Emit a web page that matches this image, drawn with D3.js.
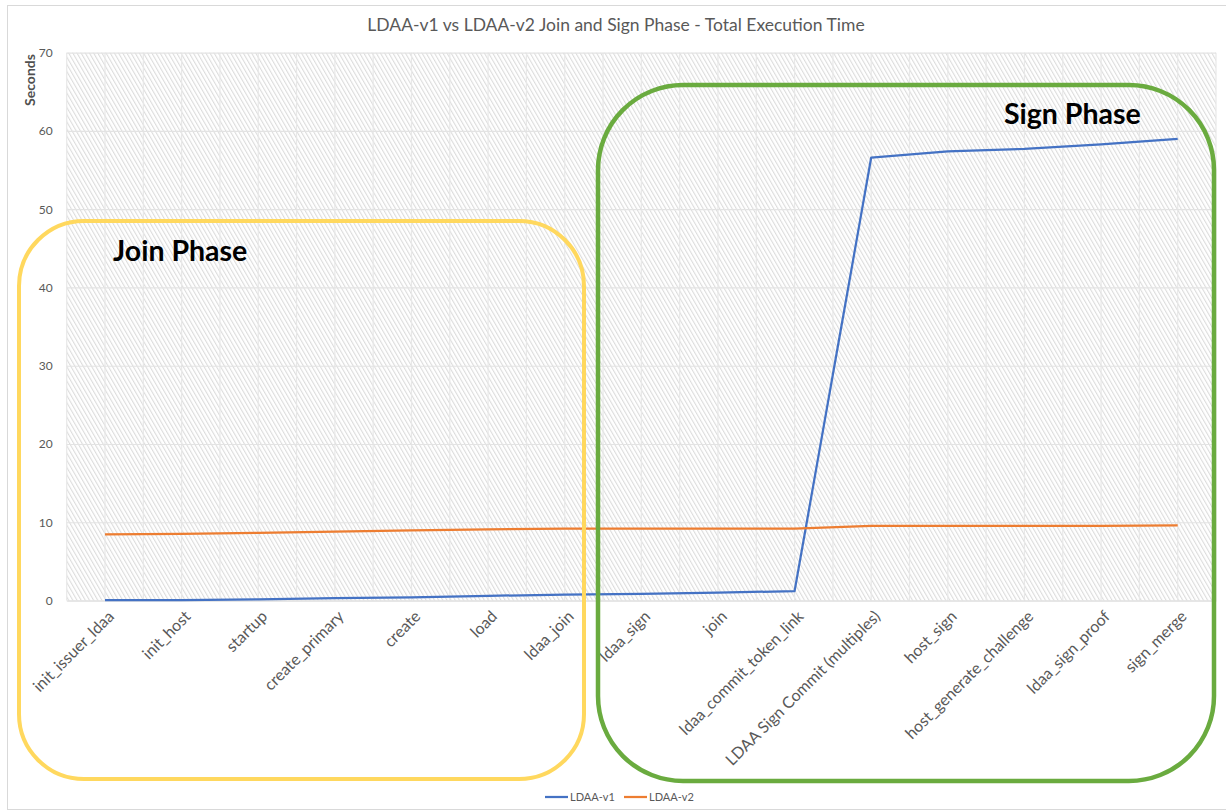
<!DOCTYPE html>
<html>
<head>
<meta charset="utf-8">
<script src="https://cdn.jsdelivr.net/npm/d3@7"></script>
<style>
  body { margin: 0; background: #fff; }
  svg { display: block; font-family: Lato, "Open Sans", sans-serif; }
</style>
</head>
<body>
<svg width="1226" height="812"></svg>
<script>
var categories = ["init_issuer_ldaa", "init_host", "startup", "create_primary", "create", "load", "ldaa_join",
  "ldaa_sign", "join", "ldaa_commit_token_link", "LDAA Sign Commit (multiples)", "host_sign",
  "host_generate_challenge", "ldaa_sign_proof", "sign_merge"];
var ldaaV1 = [0.05, 0.05, 0.15, 0.3, 0.4, 0.6, 0.75, 0.85, 1.0, 1.2, 56.6, 57.4, 57.7, 58.3, 59.0];
var ldaaV2 = [8.45, 8.5, 8.65, 8.8, 8.95, 9.1, 9.2, 9.2, 9.2, 9.2, 9.55, 9.55, 9.55, 9.55, 9.6];
var yTicks = [0, 10, 20, 30, 40, 50, 60, 70];
var seriesNames = ["LDAA-v1", "LDAA-v2"];
var seriesColors = ["#4472C4", "#ED7D31"];

var svg = d3.select('svg');

var plotLeft = 66.7, plotRight = 1216, plotTop = 52.7, plotBottom = 600.5;

var scaleX = d3.scaleBand().domain(categories).range([plotLeft, plotRight]).padding(0);
var scaleY = d3.scaleLinear().domain([0, 70]).range([plotBottom, plotTop]);
var cx = function(c){ return scaleX(c) + scaleX.bandwidth() / 2; };

// outer chart border
svg.append('rect')
  .attr('x', 7.5).attr('y', 5.5).attr('width', 1240).attr('height', 804)
  .attr('fill', '#fff').attr('stroke', '#d9d9d9');

// hatched plot background
var defs = svg.append('defs');
var pat = defs.append('pattern')
  .attr('id', 'hatch')
  .attr('patternUnits', 'userSpaceOnUse')
  .attr('width', 3.6).attr('height', 10)
  .attr('patternTransform', 'rotate(-30)');
pat.append('rect').attr('width', 3.6).attr('height', 10).attr('fill', '#fff');
pat.append('rect').attr('width', 1.1).attr('height', 10).attr('fill', '#dcdcdc');

svg.append('rect')
  .attr('x', plotLeft).attr('y', plotTop)
  .attr('width', plotRight - plotLeft).attr('height', plotBottom - plotTop)
  .attr('fill', 'url(#hatch)');

// vertical gridlines at band edges and centres
var vLines = [];
categories.forEach(function(c){ vLines.push(scaleX(c)); vLines.push(cx(c)); });
vLines.push(plotRight);
svg.append('g').selectAll('line')
  .data(vLines)
  .enter()
  .append('line')
  .attr('x1', function(d){ return d; }).attr('x2', function(d){ return d; })
  .attr('y1', plotTop).attr('y2', plotBottom)
  .attr('stroke', '#e8e8e8').attr('stroke-width', 1.2);

// horizontal gridlines + y axis
var yAxis = svg.append('g')
  .attr('transform', 'translate(' + plotLeft + ',0)')
  .call(d3.axisLeft(scaleY).tickValues(yTicks).tickSize(-(plotRight - plotLeft)).tickPadding(14));
yAxis.select('.domain').remove();
yAxis.selectAll('.tick line').attr('stroke', '#e3e3e3').attr('stroke-width', 1.2);
yAxis.selectAll('.tick text')
  .attr('fill', '#595959').style('font-size', '12px').style('font-family', 'Lato, sans-serif');

// x axis labels
var xAxis = svg.append('g')
  .attr('transform', 'translate(0,' + plotBottom + ')')
  .call(d3.axisBottom(scaleX).tickSize(0).tickPadding(0));
xAxis.select('.domain').attr('stroke', '#dcdcdc');
xAxis.selectAll('.tick text')
  .attr('fill', '#595959')
  .style('font-size', '16px')
  .style('font-family', 'Lato, sans-serif')
  .attr('text-anchor', 'end')
  .attr('dy', '0')
  .attr('transform', 'translate(10,17) rotate(-45)');

// lines
var line = d3.line()
  .x(function(d, i){ return cx(categories[i]); })
  .y(function(d){ return scaleY(d); });

[ldaaV1, ldaaV2].forEach(function(vals, k){
  svg.append('path')
    .datum(vals)
    .attr('d', line)
    .attr('fill', 'none')
    .attr('stroke', seriesColors[k])
    .attr('stroke-width', 2.25)
    .attr('stroke-linejoin', 'round');
});

// title
svg.append('text')
  .attr('x', 616).attr('y', 31)
  .attr('text-anchor', 'middle')
  .attr('fill', '#595959')
  .style('font-size', '17.5px')
  .text('LDAA-v1 vs LDAA-v2 Join and Sign Phase - Total Execution Time');

// y axis title
svg.append('text')
  .attr('transform', 'translate(35,80) rotate(-90)')
  .attr('text-anchor', 'middle')
  .attr('fill', '#505050')
  .style('font-size', '14px')
  .style('font-weight', 'bold')
  .text('Seconds');

// phase boxes
svg.append('rect')
  .attr('x', 19).attr('y', 221).attr('width', 565).attr('height', 558)
  .attr('rx', 65).attr('ry', 65)
  .attr('fill', 'none').attr('stroke', '#FFD85E').attr('stroke-width', 4);
svg.append('rect')
  .attr('x', 598).attr('y', 85).attr('width', 616).attr('height', 696)
  .attr('rx', 85).attr('ry', 85)
  .attr('fill', 'none').attr('stroke', '#6AAB3F').attr('stroke-width', 4.5);

svg.append('text')
  .attr('x', 113).attr('y', 261)
  .attr('fill', '#000').style('font-size', '28.5px').style('font-weight', 'bold')
  .text('Join Phase');
svg.append('text')
  .attr('x', 1004).attr('y', 124)
  .attr('fill', '#000').style('font-size', '28.5px').style('font-weight', 'bold')
  .text('Sign Phase');

// legend
var legend = svg.append('g').attr('transform', 'translate(545,797)');
var legendX = [0, 79];
seriesNames.forEach(function(name, k){
  var g = legend.append('g').attr('transform', 'translate(' + legendX[k] + ',0)');
  g.append('line').attr('x1', 0).attr('x2', 23).attr('y1', 0).attr('y2', 0)
    .attr('stroke', seriesColors[k]).attr('stroke-width', 2.25);
  g.append('text').attr('x', 25).attr('y', 4)
    .attr('fill', '#595959').style('font-size', '11px')
    .text(name);
});
</script>
</body>
</html>
